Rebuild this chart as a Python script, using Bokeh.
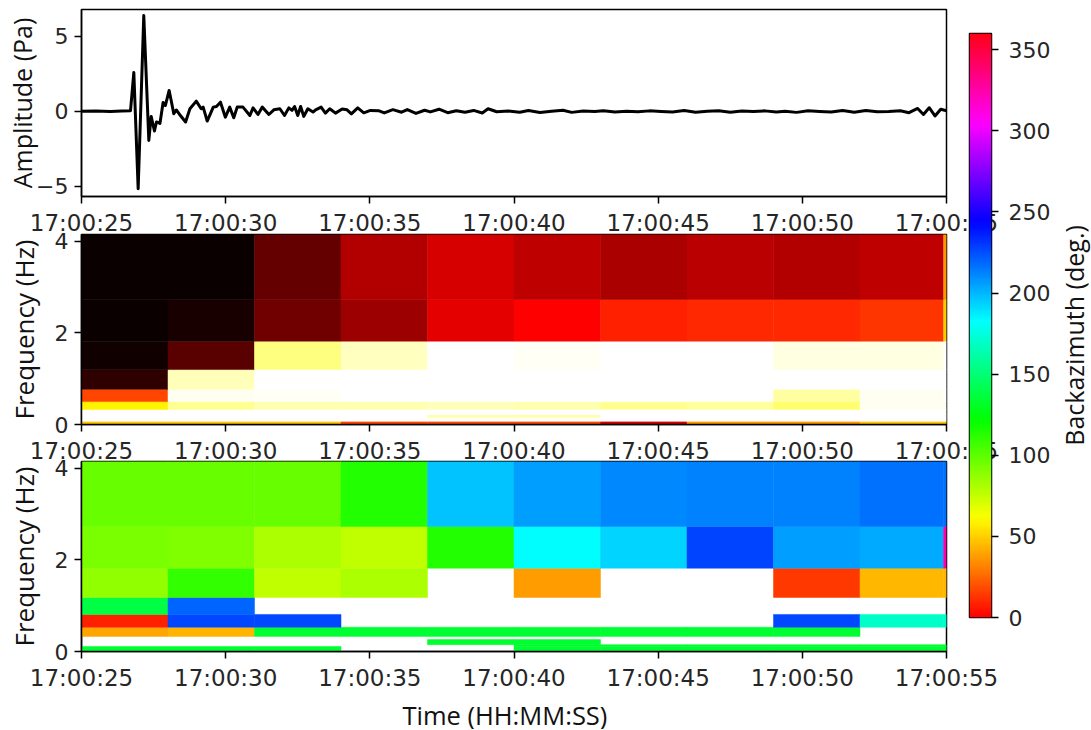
import math
import numpy as np
from bokeh.core.properties import value
from bokeh.embed import file_html
from bokeh.layouts import column, row
from bokeh.models import ColumnDataSource, FixedTicker, LinearColorMapper, Range1d
from bokeh.plotting import figure
from bokeh.resources import INLINE
from bokeh.transform import linear_cmap

# ---- data -----------------------------------------------------------------
time_ticks = [0, 5, 10, 15, 20, 25, 30]
time_labels = ["17:00:25", "17:00:30", "17:00:35", "17:00:40", "17:00:45", "17:00:50", "17:00:55"]

wave_t = [0, 0.5, 1.0, 1.4, 1.70, 1.815, 1.965, 2.16, 2.335, 2.416, 2.53, 2.6, 2.72, 2.83, 2.91, 3.04, 3.11, 3.2, 3.29,
          3.43, 3.61, 3.76, 3.98, 4.15, 4.22, 4.36, 4.57, 4.68, 4.82, 4.99, 5.14, 5.28, 5.4, 5.6, 5.84, 5.95,
          6.12, 6.27, 6.5, 6.67, 6.88, 7.04, 7.19, 7.3, 7.39, 7.5, 7.6, 7.71, 7.85, 8.03, 8.12, 8.31, 8.46,
          8.61, 8.81, 9.04, 9.21, 9.36, 9.58, 9.79, 10.02, 10.3, 10.5, 10.8, 11.1, 11.3, 11.6, 11.9, 12.1,
          12.4, 12.7, 13.0, 13.3, 13.6, 13.9, 14.1, 14.4, 14.8, 15.2, 15.5, 15.9, 16.3, 16.7, 17.0, 17.4,
          17.8, 18.1, 18.5, 18.9, 19.3, 19.7, 20.1, 20.5, 20.9, 21.3, 21.7, 22.1, 22.5, 22.9, 23.3, 23.7,
          24.1, 24.4, 24.8, 25.2, 25.6, 26.0, 26.4, 26.8, 27.2, 27.6, 28.0, 28.4, 28.7, 29.0, 29.2, 29.4,
          29.6, 29.8, 30.0]
wave_a = [0.02, 0.03, 0.0, 0.03, 0.05, 2.6, -5.15, 6.4, -1.93, -0.33, -1.3, -0.7, -0.8, 0.6, 0.4, 1.4, 0.73, -0.15, 0.1,
          -0.27, -0.7, 0.18, 0.69, 0.18, 0.29, -0.64, 0.29, 0.33, 0.62, -0.38, 0.29, -0.42, 0.29, 0.29, -0.27, 0.24,
          -0.2, 0.29, -0.2, 0.11, 0.18, -0.27, 0.24, 0.07, 0.33, -0.27, 0.33, -0.33, 0.18, -0.04, 0.11, 0.29, -0.11,
          0.18, -0.11, 0.16, 0.11, -0.16, 0.24, -0.09, 0.07, 0.05, -0.1, 0.12, -0.05, 0.13, -0.13, 0.08, -0.03,
          0.15, -0.08, 0.05, -0.05, 0.07, -0.1, 0.18, -0.02, 0.03, -0.05, 0.06, -0.07, 0.02, 0.08, -0.06, 0.03,
          0.0, 0.05, -0.04, 0.02, -0.02, 0.04, 0.0, -0.03, 0.06, -0.05, 0.02, 0.05, -0.05, 0.03, 0.0, 0.04,
          -0.03, 0.02, -0.06, 0.05, 0.0, -0.04, 0.06, -0.05, 0.07, -0.02, 0.0, 0.05, -0.08, 0.2, -0.2, 0.25,
          -0.3, 0.15, 0.05]

time_edges = [0, 3, 6, 9, 12, 15, 18, 21, 24, 27, 29.9, 30]

freq_edges_semblance = [0, 0.07, 0.15, 0.22, 0.33, 0.5, 0.77, 1.2, 1.82, 2.73, 4.15]
semblance_rows = [  # lowest band first
    [.66, .66, .66, .47, .47, .47, .30, .59, .59, .66, .66],
    [1, 1, 1, 1, 1, 1, 1, 1, 1, 1, 1],
    [1, 1, 1, 1, .92, .92, 1, 1, 1, 1, 1],
    [1, 1, 1, 1, 1, 1, 1, 1, 1, 1, 1],
    [.727, .89, .92, .92, .93, .92, .89, .90, .855, .985, .985],
    [.467, .985, .99, 1, 1, 1, 1, 1, .905, .985, 1],
    [.055, .93, 1, 1, 1, 1, 1, 1, 1, 1, 1],
    [.01, .118, .873, .936, 1, .99, 1, 1, .97, .97, 1],
    [0, .02, .152, .22, .327, .365, .413, .425, .425, .445, .67],
    [0, 0, .136, .25, .304, .271, .239, .263, .25, .27, .59],
]

freq_edges_baz = [0, 0.11, 0.15, 0.26, 0.33, 0.53, 0.81, 1.18, 1.82, 2.73, 4.15]
baz_rows = [  # lowest band first, None = not detected
    [134, 134, 134, None, None, 134, 134, 134, 134, 134, 134],
    [None, None, None, None, None, 134, 134, 134, 134, 134, 134],
    [None, None, None, None, 134, 134, None, None, None, None, None],
    [None] * 11,
    [40, 43, 134, 134, 134, 134, 134, 134, 134, None, None],
    [8, 227, 227, None, None, None, None, None, 227, 170, 170],
    [138, 220, None, None, None, None, None, None, None, None, None],
    [87.5, 110, 76, 81.5, None, 37.5, None, None, 14, 44, 44],
    [93.4, 91.5, 81, 76, 114, 183, 193, 227.5, 206, 203, 325],
    [97.5, 97.5, 97.5, 114, 197, 205.5, 211, 213, 213, 217, 217],
]

cbar_ticks = [0, 50, 100, 150, 200, 250, 300, 350]

# ---- colour maps ----------------------------------------------------------
def to_hex(r, g, b):
    return "#%02x%02x%02x" % (int(r * 255 + .5), int(g * 255 + .5), int(b * 255 + .5))

s = np.linspace(0, 1, 512)
hot_palette = [to_hex(*c) for c in zip(
    np.interp(s, [0, .365, 1], [.0416, 1, 1]),
    np.interp(s, [0, .365, .746, 1], [0, 0, 1, 1]),
    np.interp(s, [0, .746, 1], [0, 0, 1]))]
hsv_palette = [to_hex(*c) for c in zip(
    np.interp(s, [0, .15873, .174603, .333333, .349206, .666667, .68254, .84127, .857143, 1],
              [1, 1, .96875, .03125, 0, 0, .03125, .96875, 1, 1]),
    np.interp(s, [0, .15873, .174603, .507937, .666667, .68254, 1],
              [0, .9375, 1, 1, .0625, 0, 0]),
    np.interp(s, [0, .333333, .349206, .507937, .84127, .857143, 1],
              [0, 0, .0625, 1, 1, .9375, .09375]))]

# ---- layout ---------------------------------------------------------------
LABEL_FONT = "Open Sans"
XS = Range1d(0, 30)


def style(p, ylab, yticks, ylab_size, ylab_standoff):
    p.grid.visible = False
    p.outline_line_color = "black"
    p.outline_line_width = 1.5
    p.border_fill_alpha = 0
    for ax in (p.xaxis[0], p.yaxis[0]):
        ax.major_label_text_font = "DejaVu Sans"
        ax.major_label_text_color = "#262626"
        ax.major_tick_in = 0
        ax.major_tick_out = 7
        ax.major_tick_line_width = 1.5
        ax.axis_line_width = 1.5
        ax.minor_tick_line_color = None
        ax.axis_label_text_font = LABEL_FONT
        ax.axis_label_text_font_style = "normal"
        ax.axis_label_text_color = "#111111"
    p.xaxis[0].major_label_text_font_size = "23px"
    p.yaxis[0].major_label_text_font_size = "22px"
    p.xaxis[0].ticker = FixedTicker(ticks=time_ticks)
    p.xaxis[0].major_label_overrides = dict(zip(time_ticks, time_labels))
    p.xaxis[0].major_label_standoff = 6
    p.yaxis[0].ticker = FixedTicker(ticks=yticks)
    p.yaxis[0].major_label_standoff = 6
    p.yaxis[0].axis_label = ylab
    p.yaxis[0].axis_label_text_font_size = ylab_size
    p.yaxis[0].axis_label_standoff = ylab_standoff


def panel(height, top, bottom, yrange, margin):
    return figure(width=1000, height=height, min_border_left=81, min_border_right=54,
                  min_border_top=top, min_border_bottom=bottom, x_range=XS, y_range=yrange,
                  toolbar_location=None, output_backend="svg", margin=margin)


def heat(p, rows, freq_edges, palette, low, high):
    left, right, bottom, top, val = [], [], [], [], []
    for i, rw in enumerate(rows):
        for j, v in enumerate(rw):
            if v is None:
                continue
            left.append(time_edges[j]); right.append(time_edges[j + 1])
            bottom.append(freq_edges[i]); top.append(freq_edges[i + 1]); val.append(v)
    src = ColumnDataSource(dict(left=left, right=right, bottom=bottom, top=top, val=val))
    cmap = linear_cmap("val", palette, low, high)
    p.quad(left="left", right="right", bottom="bottom", top="top", source=src,
           line_color=cmap, line_width=0.5, fill_color=cmap)


def text_strip(width, height, margin, x, y, text, size, angle=0.0):
    f = figure(width=width, height=height, min_border=0, x_range=Range1d(0, 1), y_range=Range1d(0, 1),
               x_axis_location=None, y_axis_location=None, toolbar_location=None,
               output_backend="svg", margin=margin)
    f.grid.visible = False
    f.outline_line_color = None
    f.background_fill_alpha = 0
    f.border_fill_alpha = 0
    f.text(x=[x], y=[y], text=[text], angle=angle, text_font=value(LABEL_FONT), text_font_size=size,
           text_color="#111111", text_align="center", text_baseline="middle")
    return f


p1 = panel(246, 9, 50, Range1d(-5.67, 6.8), (0, 0, 0, 0))
p1.line(wave_t, wave_a, line_color="black", line_width=3, line_join="round")
style(p1, "Amplitude (Pa)", [-5, 0, 5], "25px", -6)
p1.yaxis[0].major_label_overrides = {-5: "\u22125", 0: "0", 5: "5"}

p2 = panel(253, 13, 50, Range1d(0, 4.15), (-25, 0, 0, 0))
heat(p2, semblance_rows, freq_edges_semblance, hot_palette, 0, 1)
style(p2, "Frequency (Hz)", [0, 2, 4], "26px", 10)

p3 = panel(253, 13, 50, Range1d(0, 4.15), (-26, 0, 0, 0))
heat(p3, baz_rows, freq_edges_baz, hsv_palette, 0, 360)
style(p3, "Frequency (Hz)", [0, 2, 4], "26px", 10)

time_strip = text_strip(1000, 38, (-10, 0, 0, 0), 0.4895, 0.37, "Time (HH:MM:SS)", "25.5px")

cb = figure(width=150, height=677, min_border_left=29, min_border_right=99,
            min_border_top=33, min_border_bottom=60, x_range=Range1d(0, 1), y_range=Range1d(0, 360),
            x_axis_location=None, y_axis_location="right",
            toolbar_location=None, output_backend="svg", margin=(0, 0, 0, -60))
cb.image(image=[np.linspace(0, 360, 512).reshape(-1, 1)], x=0, y=0, dw=1, dh=360,
         color_mapper=LinearColorMapper(palette=hsv_palette, low=0, high=360))
cb.grid.visible = False
cb.background_fill_alpha = 0
cb.border_fill_alpha = 0
cb.outline_line_color = "black"
cb.outline_line_width = 1.5
ax = cb.yaxis[0]
ax.ticker = FixedTicker(ticks=cbar_ticks)
ax.major_label_text_font = "DejaVu Sans"
ax.major_label_text_font_size = "22px"
ax.major_label_text_color = "#262626"
ax.major_tick_in = 0
ax.major_tick_out = 7
ax.major_tick_line_width = 1.5
ax.minor_tick_line_color = None
ax.axis_line_color = None
ax.major_label_standoff = 10

baz_strip = text_strip(41, 677, (0, 0, 0, -40), 0.585, 0.483, "Backazimuth (deg.)", "25px", angle=math.pi / 2)

layout = row(column(p1, p2, p3, time_strip, spacing=0), cb, baz_strip, spacing=0)
open("out.html", "w").write(file_html(layout, INLINE))
